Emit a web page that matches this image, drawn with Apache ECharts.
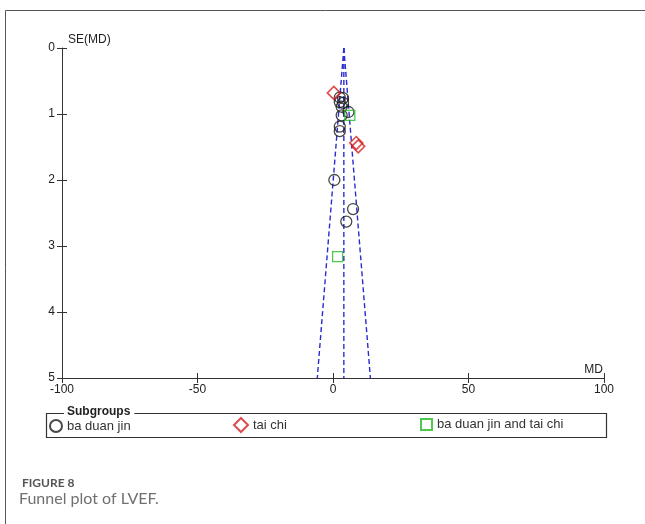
<!DOCTYPE html>
<html>
<head>
<meta charset="utf-8">
<script src="https://cdn.jsdelivr.net/npm/echarts@6/dist/echarts.min.js"></script>
<style>
  html, body { margin: 0; padding: 0; background: #fff; }
  #main { width: 645px; height: 524px; }
</style>
</head>
<body>
<div id="main"></div>
<script>
// values: [MD, SE(MD)]
var baDuanJin = [
  [2.5, 0.75], [3.7, 0.76], [2.5, 0.82], [3.7, 0.83], [3.2, 0.89], [5.7, 0.97],
  [3.2, 1.02], [2.5, 1.19], [2.5, 1.26], [0.5, 2.0], [7.4, 2.44], [4.9, 2.63]
];
var taiChi = [[0.3, 0.68], [8.6, 1.44], [9.3, 1.49]];
var bothGroups = [[6.2, 1.02], [1.7, 3.16]];

// funnel: pooled MD and the two limits at SE = 5
var pooledMD = 4;
var funnelBottom = [-5.8, 13.8];
var seMax = 5;

var xTicks = [-100, 100, 50];   // min, max, step
var yTicks = [0, 5, 1];

var groupNames = ['ba duan jin', 'tai chi', 'ba duan jin and tai chi'];

var axisFont = 'Liberation Sans, Arial, sans-serif';
var funnelStyle = { color: '#2a2ad0', width: 1.4, type: [5, 3] };

var myChart = echarts.init(document.getElementById('main'));

function funnelLine(x) {
  return {
    type: 'line',
    data: [[pooledMD, 0], [x, seMax]],
    symbol: 'none',
    silent: true,
    lineStyle: funnelStyle,
    z: 1
  };
}

var tickStyle = { color: '#333' };

// helper axes (index 1): they meet at their own zeros in the bottom-left
// corner and only add the inner half of each tick
var innerTicks = {
  type: 'value',
  splitLine: { show: false },
  axisLine: { show: false, onZero: true, onZeroAxisIndex: 1 },
  axisLabel: { show: false },
  axisTick: { inside: true, length: 5, lineStyle: tickStyle }
};

myChart.setOption({
  animation: false,
  grid: { left: 62, right: 41, top: 48, bottom: 146 },
  xAxis: [
    {
      type: 'value',
      position: 'bottom',
      min: xTicks[0], max: xTicks[1], interval: xTicks[2],
      splitLine: { show: false },
      axisLine: { onZero: false, lineStyle: { color: '#333', width: 1 } },
      axisTick: { length: 5, lineStyle: tickStyle },
      name: 'MD',
      nameLocation: 'end',
      nameGap: -1,
      nameTextStyle: { fontFamily: axisFont, fontSize: 12, color: '#222', align: 'right', verticalAlign: 'bottom', padding: [0, 0, 2, 0] },
      axisLabel: { fontFamily: axisFont, fontSize: 12, color: '#222', margin: 6 }
    },
    Object.assign({ position: 'bottom', min: 0, max: xTicks[1] - xTicks[0], interval: xTicks[2] }, innerTicks)
  ],
  yAxis: [
    {
      type: 'value',
      position: 'left',
      inverse: true,
      min: yTicks[0], max: yTicks[1], interval: yTicks[2],
      splitLine: { show: false },
      axisLine: { onZero: false, lineStyle: { color: '#333', width: 1 } },
      axisTick: { length: 5, lineStyle: tickStyle },
      name: 'SE(MD)',
      nameLocation: 'start',
      nameGap: 0,
      nameTextStyle: { fontFamily: axisFont, fontSize: 12, color: '#222', align: 'left', verticalAlign: 'bottom', padding: [0, 0, 2, 6] },
      axisLabel: { fontFamily: axisFont, fontSize: 12, color: '#222', margin: 7 }
    },
    Object.assign({ position: 'left', min: yTicks[0], max: yTicks[1], interval: yTicks[2] }, innerTicks)
  ],
  legend: [
    { data: [groupNames[0]], left: 49, top: 419, itemWidth: 12, itemHeight: 12 },
    { data: [groupNames[1]], left: 233, top: 417, itemWidth: 14, itemHeight: 14 },
    { data: [groupNames[2]], left: 420, top: 418, itemWidth: 11, itemHeight: 11 }
  ].map(function (l) {
    return Object.assign(l, {
      padding: 0, itemGap: 5,
      textStyle: { fontFamily: axisFont, fontSize: 13, color: '#333' }
    });
  }),
  series: [
    funnelLine(funnelBottom[0]),
    funnelLine(pooledMD),
    funnelLine(funnelBottom[1]),
    {
      name: groupNames[0], type: 'scatter', data: baDuanJin,
      symbol: 'circle', symbolSize: 11,
      itemStyle: { color: 'transparent', borderColor: '#1a1a1a', borderWidth: 1.3 }, z: 3
    },
    {
      name: groupNames[1], type: 'scatter', data: taiChi,
      symbol: 'diamond', symbolSize: 13,
      itemStyle: { color: 'transparent', borderColor: '#d42020', borderWidth: 1.6 }, z: 3
    },
    {
      name: groupNames[2], type: 'scatter', data: bothGroups,
      symbol: 'rect', symbolSize: 10,
      itemStyle: { color: 'transparent', borderColor: '#22bb22', borderWidth: 1.3 }, z: 3
    }
  ],
  graphic: [
    // outer frame (top and left)
    { type: 'polyline', shape: { points: [[645, 10.5], [5.5, 10.5], [5.5, 524]] }, style: { stroke: '#555', lineWidth: 1, fill: null }, silent: true },
    // legend box
    { type: 'rect', shape: { x: 46.5, y: 413.5, width: 560, height: 24 }, style: { stroke: '#333', lineWidth: 1.2, fill: null }, silent: true },
    { type: 'text', left: 64, top: 406, style: { text: 'Subgroups', font: 'bold 12px Liberation Sans, Arial, sans-serif', fill: '#222', backgroundColor: '#fff', padding: [0, 4, 0, 3] }, z: 10 },
    // caption
    { type: 'text', left: 22, top: 477, style: { text: 'FIGURE 8', font: 'bold 12px Lato, sans-serif', fill: '#555' } },
    { type: 'text', left: 19, top: 491, style: { text: 'Funnel plot of LVEF.', font: '16px Lato, sans-serif', fill: '#707070' } }
  ]
});
</script>
</body>
</html>
